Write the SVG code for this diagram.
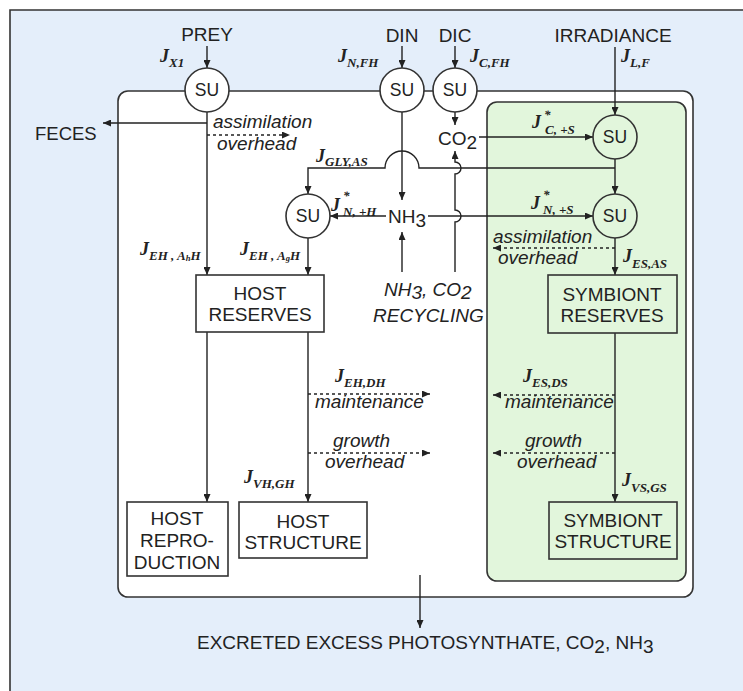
<svg xmlns="http://www.w3.org/2000/svg" width="743" height="691" viewBox="0 0 743 691">
<style>
.ln{fill:none;stroke:#222;stroke-width:1.4}
.ds{fill:none;stroke:#222;stroke-width:1.4;stroke-dasharray:3,3}
.box{stroke:#333;stroke-width:1.6}
.t{font-family:"Liberation Sans",Arial,sans-serif;font-size:19px;fill:#222}
.su{font-family:"Liberation Sans",Arial,sans-serif;font-size:17.5px;fill:#222;text-anchor:middle}
.it{font-family:"Liberation Sans",Arial,sans-serif;font-size:19px;font-style:italic;fill:#222}
.j{font-family:"Liberation Serif","Times New Roman",serif;font-size:18px;font-weight:bold;font-style:italic;fill:#222}
.s{font-size:13px}
.ss{font-size:8.5px}
.c{text-anchor:middle}
</style>
<defs>
<marker id="ah" markerUnits="userSpaceOnUse" markerWidth="9" markerHeight="7" refX="8" refY="3.5" orient="auto">
<path d="M0,0 L8,3.5 L0,7 z" fill="#222"/>
</marker>
</defs>
<rect x="0" y="0" width="743" height="691" fill="#ffffff"/>
<rect x="10" y="10" width="733" height="681" fill="#e4eefa"/>
<path d="M10,691 V10 H743" fill="none" stroke="#333" stroke-width="1.6"/>

<g id="host-compartment">
<rect x="118" y="91" width="575" height="506" rx="10" fill="#ffffff" class="box"/>
</g>
<g id="symbiont-compartment">
<rect x="487" y="102" width="199" height="479" rx="10" fill="#e2f6dc" class="box"/>
</g>

<g id="connectors">
<line class="ln" x1="207" y1="46" x2="207" y2="68" marker-end="url(#ah)"/>
<line class="ln" x1="207" y1="112" x2="207" y2="275" marker-end="url(#ah)"/>
<line class="ln" x1="207" y1="123" x2="103" y2="123" marker-end="url(#ah)"/>
<line class="ds" x1="207" y1="135" x2="290" y2="135" marker-end="url(#ah)"/>
<line class="ln" x1="402" y1="46" x2="402" y2="68" marker-end="url(#ah)"/>
<line class="ln" x1="455" y1="46" x2="455" y2="68" marker-end="url(#ah)"/>
<line class="ln" x1="402" y1="112" x2="402" y2="200" marker-end="url(#ah)"/>
<line class="ln" x1="455" y1="112" x2="455" y2="125" marker-end="url(#ah)"/>
<line class="ln" x1="479" y1="137" x2="593" y2="137" marker-end="url(#ah)"/>
<line class="ln" x1="615" y1="47" x2="615" y2="115" marker-end="url(#ah)"/>
<line class="ln" x1="615" y1="159" x2="615" y2="194" marker-end="url(#ah)"/>
<path class="ln" d="M615,168 H419 A17,17 0 0 0 385,168 H308 V194" marker-end="url(#ah)"/>
<line class="ln" x1="308" y1="238" x2="308" y2="275" marker-end="url(#ah)"/>
<line class="ln" x1="386" y1="216" x2="330" y2="216" marker-end="url(#ah)"/>
<line class="ln" x1="428" y1="216" x2="593" y2="216" marker-end="url(#ah)"/>
<line class="ln" x1="402" y1="272" x2="402" y2="232" marker-end="url(#ah)"/>
<path class="ln" d="M455,272 V222 A6,6 0 0 0 455,210 V174 A6,6 0 0 0 455,162 V151" marker-end="url(#ah)"/>
<line class="ln" x1="615" y1="238" x2="615" y2="275" marker-end="url(#ah)"/>
<line class="ds" x1="615" y1="248" x2="493" y2="248" marker-end="url(#ah)"/>
<line class="ln" x1="207" y1="332" x2="207" y2="502" marker-end="url(#ah)"/>
<line class="ln" x1="308" y1="332" x2="308" y2="502" marker-end="url(#ah)"/>
<line class="ds" x1="308" y1="394" x2="430" y2="394" marker-end="url(#ah)"/>
<line class="ds" x1="308" y1="453" x2="430" y2="453" marker-end="url(#ah)"/>
<line class="ln" x1="615" y1="333" x2="615" y2="502" marker-end="url(#ah)"/>
<line class="ds" x1="615" y1="395" x2="493" y2="395" marker-end="url(#ah)"/>
<line class="ds" x1="615" y1="453" x2="493" y2="453" marker-end="url(#ah)"/>
<line class="ln" x1="420" y1="575" x2="420" y2="628" marker-end="url(#ah)"/>
</g>

<g id="su-prey"><circle cx="207" cy="90" r="22" fill="#fff" class="box"/><text class="su" x="207" y="96">SU</text></g>
<g id="su-din"><circle cx="402" cy="90" r="22" fill="#fff" class="box"/><text class="su" x="402" y="96">SU</text></g>
<g id="su-dic"><circle cx="455" cy="90" r="22" fill="#fff" class="box"/><text class="su" x="455" y="96">SU</text></g>
<g id="su-light"><circle cx="615" cy="137" r="22" fill="#e2f6dc" class="box"/><text class="su" x="615" y="143">SU</text></g>
<g id="su-symbiont"><circle cx="615" cy="216" r="22" fill="#e2f6dc" class="box"/><text class="su" x="615" y="222">SU</text></g>
<g id="su-host"><circle cx="308" cy="216" r="22" fill="#fff" class="box"/><text class="su" x="308" y="222">SU</text></g>

<g id="host-reserves"><rect x="196" y="275" width="128" height="57" fill="#fff" class="box"/>
<text class="t c" x="260" y="300">HOST</text><text class="t c" x="260" y="321">RESERVES</text></g>
<g id="symbiont-reserves"><rect x="548" y="275" width="129" height="58" fill="none" class="box"/>
<text class="t c" x="612" y="301">SYMBIONT</text><text class="t c" x="612" y="322">RESERVES</text></g>
<g id="host-reproduction"><rect x="127" y="502" width="101" height="74" fill="#fff" class="box"/>
<text class="t c" x="177" y="525">HOST</text><text class="t c" x="177" y="547">REPRO-</text><text class="t c" x="177" y="569">DUCTION</text></g>
<g id="host-structure"><rect x="239" y="502" width="128" height="56" fill="#fff" class="box"/>
<text class="t c" x="303" y="528">HOST</text><text class="t c" x="303" y="549">STRUCTURE</text></g>
<g id="symbiont-structure"><rect x="549" y="502" width="128" height="57" fill="none" class="box"/>
<text class="t c" x="613" y="527">SYMBIONT</text><text class="t c" x="613" y="548">STRUCTURE</text></g>

<g id="labels">
<text class="t c" x="207" y="41">PREY</text>
<text class="t c" x="402" y="42">DIN</text>
<text class="t c" x="455" y="42">DIC</text>
<text class="t c" x="613" y="42">IRRADIANCE</text>
<text class="t" x="35" y="140" style="font-size:18.5px">FECES</text>
<text class="t" x="438" y="145">CO<tspan dy="4">2</tspan></text>
<text class="t" x="388" y="223">NH<tspan dy="4">3</tspan></text>
<text class="it" x="384" y="296">NH<tspan dy="3">3</tspan><tspan dy="-3">, CO</tspan><tspan dy="3">2</tspan></text>
<text class="it" x="373" y="322">RECYCLING</text>
<text class="it" x="213" y="128">assimilation</text>
<text class="it" x="217" y="150">overhead</text>
<text class="it" x="493" y="243">assimilation</text>
<text class="it" x="498" y="264">overhead</text>
<text class="it" x="315" y="408">maintenance</text>
<text class="it" x="333" y="447">growth</text>
<text class="it" x="325" y="468">overhead</text>
<text class="it" x="505" y="408">maintenance</text>
<text class="it" x="525" y="447">growth</text>
<text class="it" x="517" y="468">overhead</text>
<text class="t" x="197" y="649">EXCRETED EXCESS PHOTOSYNTHATE, CO<tspan dy="4">2</tspan><tspan dy="-4">, NH</tspan><tspan dy="4">3</tspan></text>

<text class="j" x="160" y="62">J<tspan class="s" dy="5">X1</tspan></text>
<text class="j" x="338" y="62">J<tspan class="s" dy="5">N,FH</tspan></text>
<text class="j" x="470" y="62">J<tspan class="s" dy="5">C,FH</tspan></text>
<text class="j" x="621" y="62">J<tspan class="s" dy="5">L,F</tspan></text>
<text class="j" x="532" y="128">J</text><text class="j s" x="544" y="119">*</text><text class="j s" x="545" y="134">C, +S</text>
<text class="j" x="316" y="162">J<tspan class="s" dy="4">GLY,AS</tspan></text>
<text class="j" x="331" y="211">J</text><text class="j s" x="343" y="200">*</text><text class="j s" x="343" y="216">N, +H</text>
<text class="j" x="531" y="209">J</text><text class="j s" x="543" y="199">*</text><text class="j s" x="543" y="214">N, +S</text>
<text class="j" x="140" y="255">J<tspan class="s" dy="5">EH , A</tspan><tspan class="ss" dy="1">h</tspan><tspan class="s" dy="-1">H</tspan></text>
<text class="j" x="240" y="255">J<tspan class="s" dy="5">EH , A</tspan><tspan class="ss" dy="1">g</tspan><tspan class="s" dy="-1">H</tspan></text>
<text class="j" x="623" y="262">J<tspan class="s" dy="6">ES,AS</tspan></text>
<text class="j" x="335" y="382">J<tspan class="s" dy="5">EH,DH</tspan></text>
<text class="j" x="523" y="382">J<tspan class="s" dy="5">ES,DS</tspan></text>
<text class="j" x="244" y="483">J<tspan class="s" dy="5">VH,GH</tspan></text>
<text class="j" x="622" y="486">J<tspan class="s" dy="6">VS,GS</tspan></text>
</g>
</svg>
